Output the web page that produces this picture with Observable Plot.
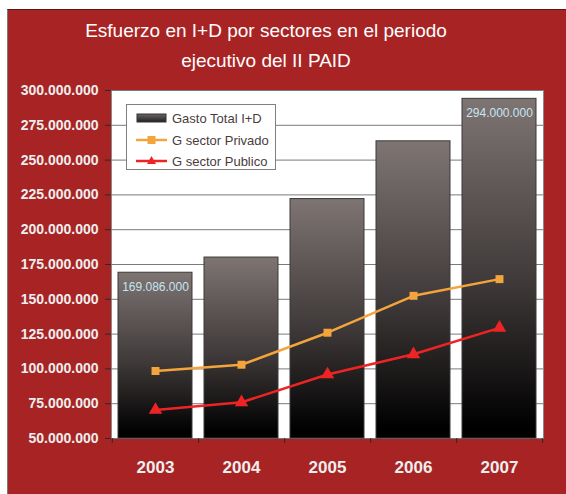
<!DOCTYPE html>
<html><head><meta charset="utf-8">
<script src="https://cdn.jsdelivr.net/npm/d3@7"></script>
<script src="https://cdn.jsdelivr.net/npm/@observablehq/plot@0.6"></script>
<style>
body{margin:0;background:#fff;width:566px;height:494px;overflow:hidden;position:relative;font-family:"Liberation Sans",Arial,sans-serif}
#frame{position:absolute;left:7px;top:9px;width:559px;height:485px;background:#a82424;border-top:1px solid #5c1515;border-left:1px solid #7a7a7a;box-sizing:border-box}
#title{position:absolute;left:0;top:16px;width:532px;text-align:center;color:#fff;font-size:19px;line-height:30px;letter-spacing:0px}
#chart{position:absolute;left:0;top:0}
#legend{position:absolute;left:126px;top:104px;width:150px;height:66px;background:#fff;border:1px solid #808080;box-sizing:border-box;font-size:13px;color:#4a3c3c}
#legend .row{position:absolute;left:9px;height:18px;display:flex;align-items:center}
#legend svg{margin-right:5px}
</style></head>
<body>
<div id="frame"></div>
<div id="title">Esfuerzo en I+D por sectores en el periodo<br>ejecutivo del II PAID</div>
<div id="chart"></div>
<div id="legend"></div>
<script>
const years = ["2003","2004","2005","2006","2007"];
const gastoTotal = [169086000, 180000000, 222000000, 263500000, 294000000];
const sectorPrivado = [98500000, 103000000, 126000000, 152500000, 164500000];
const sectorPublico = [70500000, 76000000, 96000000, 110500000, 129500000];
const yTicks = [50e6, 75e6, 100e6, 125e6, 150e6, 175e6, 200e6, 225e6, 250e6, 275e6, 300e6];
const labeledYears = ["2003", "2007"];
const seriesNames = ["Gasto Total I+D", "G sector Privado", "G sector Publico"];

const fmt = d3.formatLocale({decimal: ",", thousands: ".", grouping: [3], currency: ["", "€"]}).format(",d");
const data = years.map((year, i) => ({year, total: gastoTotal[i], privado: sectorPrivado[i], publico: sectorPublico[i]}));

const orange = "#f4a43c", red = "#ee2424";

const chart = Plot.plot({
  width: 566, height: 494,
  marginTop: 90, marginBottom: 56, marginLeft: 111, marginRight: 23,
  style: {background: "transparent", overflow: "visible", fontFamily: "Liberation Sans, Arial, sans-serif"},
  x: {type: "band", domain: years, paddingInner: 0.14, paddingOuter: 0.07, label: null},
  y: {domain: [50e6, 300e6], label: null},
  marks: [
    Plot.frame({fill: "white", stroke: "#8a8a8a"}),
    Plot.gridY(yTicks, {stroke: "#7a7a7a", strokeOpacity: 1}),
    Plot.barY(data, {x: "year", y1: 50e6, y2: "total", fill: "url(#barGrad)", stroke: "#3a3a3a", strokeWidth: 1}),
    Plot.line(data, {x: "year", y: "privado", stroke: orange, strokeWidth: 2.5}),
    Plot.dot(data, {x: "year", y: "privado", symbol: "square", fill: orange, r: 4.5}),
    Plot.line(data, {x: "year", y: "publico", stroke: red, strokeWidth: 2.5}),
    Plot.dot(data, {x: "year", y: "publico", symbol: "triangle", fill: red, r: 5}),
    Plot.text(data.filter(d => labeledYears.includes(d.year)), {x: "year", y: "total", text: d => fmt(d.total), dy: 14, fill: "#c6e6f2", fontSize: 12}),
    Plot.axisY({ticks: yTicks, tickFormat: fmt, tickSize: 6, tickPadding: 7, stroke: "#2a2a2a", fill: "#eeeeee", fontSize: 14, fontWeight: "bold", label: null}),
    Plot.axisX({tickSize: 0, tickPadding: 22, fill: "#eeeeee", fontSize: 17, fontWeight: "bold", label: null}),
    Plot.axisX({tickSize: 5, tickFormat: () => "", dx: 43.2, stroke: "#2a2a2a", label: null}),
    Plot.axisX({ticks: ["2003"], tickSize: 5, tickFormat: () => "", dx: -43.2, stroke: "#2a2a2a", label: null})
  ]
});

const svg = d3.select(chart);
const defs = svg.insert("defs", ":first-child");
const g = defs.append("linearGradient").attr("id", "barGrad").attr("x1", 0).attr("y1", 0).attr("x2", 0).attr("y2", 1);
g.append("stop").attr("offset", "0%").attr("stop-color", "#7e7573");
g.append("stop").attr("offset", "55%").attr("stop-color", "#3e3838");
g.append("stop").attr("offset", "97%").attr("stop-color", "#000");
document.getElementById("chart").appendChild(chart);

// legend
const legend = d3.select("#legend");
const rowsTop = [4, 26, 47];
seriesNames.forEach((name, i) => {
  const row = legend.append("div").attr("class", "row").style("top", rowsTop[i] + "px");
  const s = row.append("svg").attr("width", 31).attr("height", 12);
  if (i === 0) {
    const lg = s.append("defs").append("linearGradient").attr("id", "legGrad").attr("x1", 0).attr("y1", 0).attr("x2", 0).attr("y2", 1);
    lg.append("stop").attr("offset", "0%").attr("stop-color", "#6a6464");
    lg.append("stop").attr("offset", "100%").attr("stop-color", "#222");
    s.append("rect").attr("x", 1).attr("y", 2).attr("width", 29).attr("height", 8).attr("fill", "url(#legGrad)").attr("stroke", "#333");
  } else {
    const c = i === 1 ? orange : red;
    s.append("line").attr("x1", 0).attr("x2", 31).attr("y1", 6).attr("y2", 6).attr("stroke", c).attr("stroke-width", 2.5);
    if (i === 1) s.append("rect").attr("x", 11.5).attr("y", 2).attr("width", 8).attr("height", 8).attr("fill", c);
    else s.append("path").attr("d", "M15.5,1L20,9H11Z").attr("fill", c);
  }
  row.append("span").text(name);
});
</script>
</body></html>
